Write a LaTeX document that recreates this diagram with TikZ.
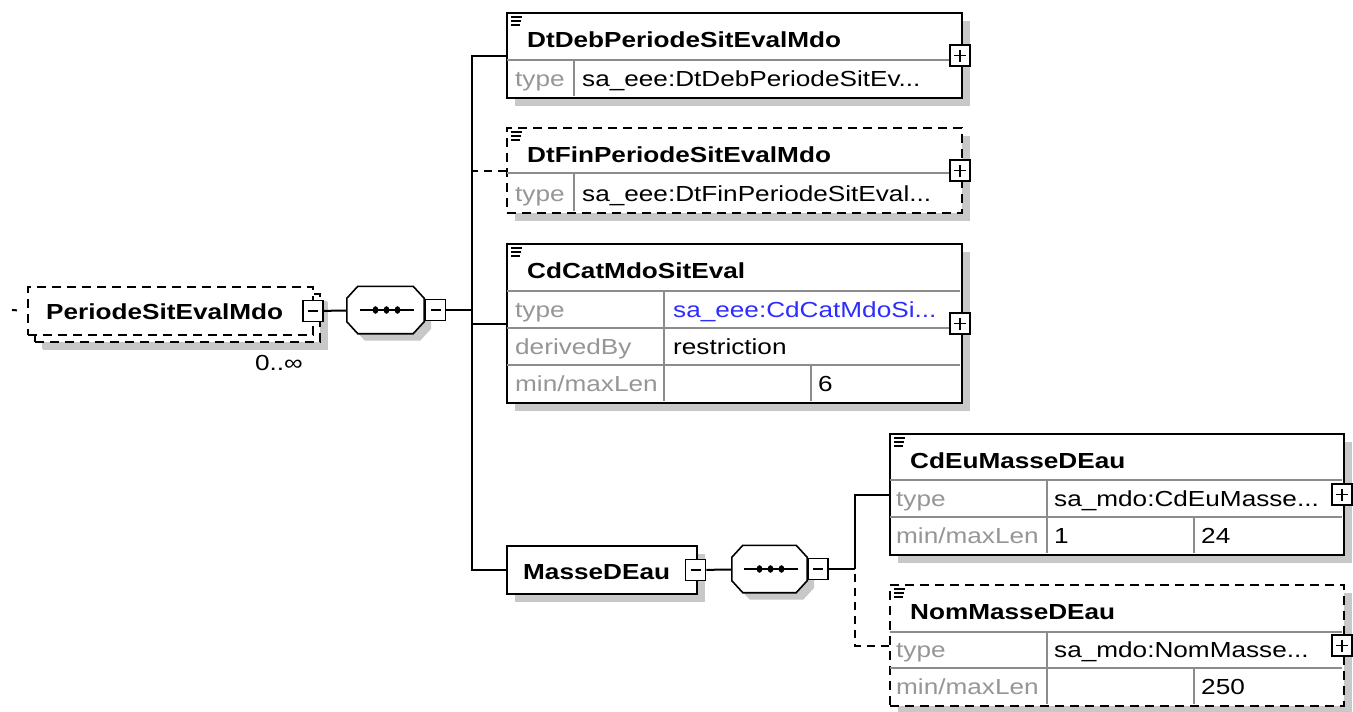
\documentclass[tikz,border=0pt]{standalone}
\usepackage{fontspec}
\setmainfont{Liberation Sans}[FakeStretch=1.2]
\usetikzlibrary{shadows}
\definecolor{gristxt}{RGB}{150,150,150}
\definecolor{grisraya}{RGB}{140,140,140}
\definecolor{azul}{RGB}{45,45,255}
\definecolor{sombra}{RGB}{200,200,200}
\newcommand{\letra}{\fontsize{21.8pt}{26pt}\selectfont}
\tikzset{
  caja/.style={draw, line width=2pt, fill=white, anchor=north west, inner sep=0pt,
    general shadow={fill=sombra, shadow xshift=8pt, shadow yshift=-8pt}},
  opcional/.style={dash pattern=on 9pt off 6pt},
  linea/.style={draw=grisraya, line width=1.2pt},
  icono/.style={line width=1.3pt},
  pm/.style={draw, line width=1.6pt, fill=white, minimum width=20pt, minimum height=21pt, inner sep=0pt},
  menos/.style={pm, path picture={\draw[line width=1.4pt]
    ([xshift=-5pt]path picture bounding box.center) -- ([xshift=5pt]path picture bounding box.center);}},
  mas/.style={pm, path picture={\draw[line width=1.6pt]
    ([xshift=-6pt]path picture bounding box.center) -- ([xshift=6pt]path picture bounding box.center)
    ([yshift=-6pt]path picture bounding box.center) -- ([yshift=6pt]path picture bounding box.center);}},
  secuencia/.style={minimum width=77pt, minimum height=47pt, inner sep=0pt},
  octogono/.style={draw, fill=white, line width=1.6pt,
    general shadow={fill=sombra, shadow xshift=7pt, shadow yshift=-7pt}},
  conector/.style={line width=2pt},
  titulo/.style={anchor=base west, inner sep=0pt, font=\letra\bfseries},
  etiq/.style={anchor=base west, inner sep=0pt, text=gristxt},
  valor/.style={anchor=base west, inner sep=0pt}
}
\begin{document}
\begin{tikzpicture}[x=1pt, y=-1pt, font=\letra]
  \useasboundingbox (0,0) rectangle (1353,712);
  % el elemento raiz, repetido (0..inf) y opcional
  \node[caja, opcional, minimum width=285pt, minimum height=48pt,
    general shadow={fill=sombra, shadow xshift=7pt, shadow yshift=-7pt}] (rootb) at (34,293) {};
  \node[draw, opcional, line width=2pt, fill=white, anchor=north west, inner sep=0pt,
    minimum width=285pt, minimum height=48pt] (root) at (27,286) {};
  \node[titulo] (t-root) at (46,319) {PeriodeSitEvalMdo};
  \node[menos] (rmen) at ([xshift=-1pt]root.east) {};
  \node[valor, anchor=base east] (card) at (303,370) {0..∞};
  \coordinate (lead) at (12,310);
  % las dos secuencias, con su octogono y sus tres puntos
  \node[secuencia] (seq1) at (385.5,310) {};
  \node[secuencia, minimum width=75pt] (seq2) at (769.5,569) {};
  \foreach \s in {seq1,seq2} {
    \path[octogono]
      ([yshift=-12pt]\s.north west) -- ([xshift=11pt]\s.north west)
      -- ([xshift=-11pt]\s.north east) -- ([yshift=-12pt]\s.north east)
      -- ([yshift=12pt]\s.south east) -- ([xshift=-11pt]\s.south east)
      -- ([xshift=11pt]\s.south west) -- ([yshift=12pt]\s.south west) -- cycle;
    \draw[conector] ([xshift=-26pt]\s.center) -- ([xshift=28pt]\s.center);
    \foreach \d in {-10,1,12}
      \fill ([xshift=\d pt]\s.center) ellipse (2.8pt and 3.8pt);
  }
  \node[menos] (s1men) at (435.5,310) {};
  \coordinate (b1) at (472,310);
  % DtDebPeriodeSitEvalMdo
  \node[caja, minimum width=455pt, minimum height=85pt] (deb) at (506,12) {};
  \draw[linea] (507,60) -- (960,60) (574,60) -- (574,96);
  \node[titulo] (t-deb) at (527,47) {DtDebPeriodeSitEvalMdo};
  \node[etiq] (e-deb) at (515,86.5) {type};
  \node[valor] (v-deb) at (582,86.5) {sa\_eee:DtDebPeriodeSitEv...};
  % DtFinPeriodeSitEvalMdo, opcional
  \node[caja, opcional, minimum width=455pt, minimum height=85pt] (fin) at (506,127) {};
  \draw[linea] (507,173) -- (960,173) (574,173) -- (574,211);
  \node[titulo] (t-fin) at (527,162) {DtFinPeriodeSitEvalMdo};
  \node[etiq] (e-fin) at (515,201.5) {type};
  \node[valor] (v-fin) at (582,201.5) {sa\_eee:DtFinPeriodeSitEval...};
  % CdCatMdoSitEval
  \node[caja, minimum width=455pt, minimum height=159pt] (cat) at (506,243) {};
  \draw[linea] (507,291) -- (960,291) (507,328) -- (960,328) (507,365) -- (960,365)
    (664,291) -- (664,401) (811,365) -- (811,401);
  \node[titulo] (t-cat) at (527,278) {CdCatMdoSitEval};
  \node[etiq] (e-cat1) at (515,317.5) {type};
  \node[valor, text=azul] (v-cat1) at (673,317.5) {sa\_eee:CdCatMdoSi...};
  \node[etiq] (e-cat2) at (515,354.5) {derivedBy};
  \node[valor] (v-cat2) at (673,354.5) {restriction};
  \node[etiq] (e-cat3) at (515,391.5) {min/maxLen};
  \node[valor] (v-cat3) at (818,391.5) {6};
  % MasseDEau y su secuencia
  \node[caja, minimum width=190pt, minimum height=48pt] (masse) at (506,545) {};
  \node[titulo] (t-masse) at (523,579) {MasseDEau};
  \node[menos] (mmen) at ([xshift=-2.5pt]masse.east) {};
  \node[menos] (s2men) at (818,569) {};
  \coordinate (b2) at (855,569);
  % CdEuMasseDEau
  \node[caja, minimum width=454pt, minimum height=121pt] (eu) at (889,433) {};
  \draw[linea] (890,480) -- (1342,480) (890,517) -- (1342,517)
    (1047,480) -- (1047,553) (1194,517) -- (1194,553);
  \node[titulo] (t-eu) at (910,468) {CdEuMasseDEau};
  \node[etiq] (e-eu1) at (896,506.5) {type};
  \node[valor] (v-eu1) at (1054,506.5) {sa\_mdo:CdEuMasse...};
  \node[etiq] (e-eu2) at (896,543.5) {min/maxLen};
  \node[valor] (v-eu2) at (1054,543.5) {1};
  \node[valor] (v-eu3) at (1201,543.5) {24};
  % NomMasseDEau, opcional
  \node[caja, opcional, minimum width=454pt, minimum height=121pt] (nom) at (889,584) {};
  \draw[linea] (890,632) -- (1342,632) (890,668) -- (1342,668)
    (1047,632) -- (1047,704) (1194,668) -- (1194,704);
  \node[titulo] (t-nom) at (910,619) {NomMasseDEau};
  \node[etiq] (e-nom1) at (896,657.5) {type};
  \node[valor] (v-nom1) at (1054,657.5) {sa\_mdo:NomMasse...};
  \node[etiq] (e-nom2) at (896,694.5) {min/maxLen};
  \node[valor] (v-nom2) at (1201,694.5) {250};
  % los iconos de cabecera y los botones +
  \foreach \n in {deb,fin,cat,eu,nom} {
    \draw[icono] ([shift={(5pt,-5pt)}]\n.north west) -- ++(11,0)
                 ([shift={(5pt,-9pt)}]\n.north west) -- ++(10,0)
                 ([shift={(5pt,-13pt)}]\n.north west) -- ++(9,0);
    \node[mas] (\n-mas) at ([xshift=-3pt]\n.east) {};
  }
  % las conexiones
  \draw[conector, dash pattern=on 5pt off 30pt] (lead) -- (root.west);
  \draw[conector] (rmen) -- (seq1);
  \draw[conector] (s1men) -- (b1);
  \draw[conector] (deb.west) -| (b1);
  \draw[conector] (cat.west) -| (b1);
  \draw[conector] (masse.west) -| (b1);
  \draw[conector, dash pattern=on 8pt off 6pt] (fin.west) -- (fin.west -| b1);
  \draw[conector] (mmen) -- (seq2);
  \draw[conector] (s2men) -- (b2);
  \draw[conector] (eu.west) -| (b2);
  \draw[conector, dash pattern=on 8pt off 6pt] (nom.west) -| (b2);
\end{tikzpicture}
\end{document}
